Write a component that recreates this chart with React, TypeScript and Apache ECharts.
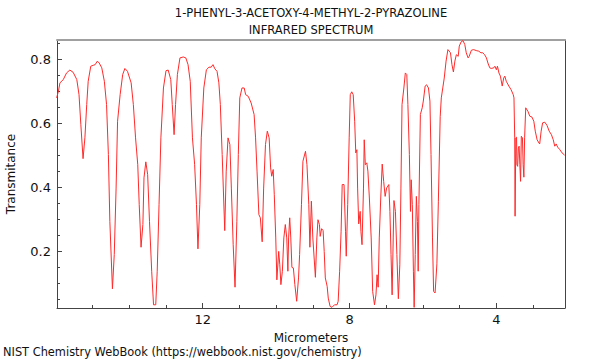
import React, { useEffect, useRef } from "react";
import * as echarts from "echarts";

const titleLines = ["1-PHENYL-3-ACETOXY-4-METHYL-2-PYRAZOLINE", "INFRARED SPECTRUM"];
const footer = "NIST Chemistry WebBook (https://webbook.nist.gov/chemistry)";

const micrometers = [
  15.98, 15.93, 15.89, 15.8, 15.71, 15.62, 15.53, 15.43, 15.37, 15.32, 15.26, 15.21, 15.16, 15.12, 15.05, 14.98,
  14.93, 14.87, 14.82, 14.75, 14.68, 14.62, 14.57, 14.53, 14.46, 14.41, 14.36, 14.32, 14.25, 14.18, 14.12, 14.05,
  13.95, 13.89, 13.83, 13.77, 13.73, 13.68, 13.63, 13.6, 13.55, 13.5, 13.45, 13.39, 13.34, 13.28, 13.24, 13.19,
  13.14, 13.07, 13.0, 12.94, 12.87, 12.83, 12.78, 12.74, 12.69, 12.62, 12.53,
  12.46, 12.4, 12.34, 12.28, 12.22, 12.17, 12.13, 12.08, 12.04, 11.97, 11.9, 11.83, 11.77, 11.72, 11.67, 11.61,
  11.56, 11.52, 11.47, 11.4, 11.36, 11.31, 11.26, 11.22, 11.17, 11.12, 11.07, 11.03, 10.99, 10.93, 10.87, 10.83,
  10.76, 10.68, 10.6, 10.56, 10.52, 10.47, 10.43, 10.38, 10.34, 10.29, 10.24, 10.19, 10.15, 10.12, 10.08, 10.05,
  10.01, 9.98, 9.93, 9.9, 9.87, 9.83, 9.79, 9.75, 9.71, 9.68, 9.66, 9.63, 9.6, 9.57, 9.53, 9.49, 9.44, 9.39, 9.36,
  9.31, 9.27, 9.2, 9.16, 9.11, 9.08, 9.04,
  9.0, 8.93, 8.89, 8.86, 8.82, 8.8, 8.76, 8.72, 8.69, 8.66, 8.61, 8.58, 8.53, 8.48, 8.41, 8.34, 8.31, 8.27, 8.23,
  8.2, 8.15, 8.11, 8.09, 8.05, 8.01, 7.98, 7.94, 7.9, 7.86, 7.83, 7.8, 7.78, 7.75, 7.71, 7.69, 7.66, 7.62, 7.6,
  7.57, 7.53, 7.5, 7.46, 7.41, 7.37, 7.32, 7.28, 7.25, 7.22, 7.19, 7.15, 7.11, 7.07, 7.03, 6.99, 6.93, 6.9, 6.87,
  6.84, 6.81, 6.79, 6.75, 6.71, 6.67, 6.63, 6.6, 6.57, 6.52, 6.48, 6.44, 6.41, 6.37, 6.34, 6.32, 6.29, 6.26, 6.24,
  6.21, 6.18, 6.15, 6.13, 6.11, 6.07, 6.02, 5.99, 5.94, 5.9, 5.85, 5.81, 5.78, 5.74, 5.71, 5.67, 5.62, 5.58, 5.53,
  5.5, 5.46, 5.42, 5.37, 5.32, 5.25, 5.21, 5.17, 5.13, 5.09, 5.04, 5.01, 4.96, 4.91, 4.86, 4.82, 4.77, 4.74, 4.68,
  4.62, 4.55, 4.48, 4.42, 4.37, 4.32, 4.27, 4.23, 4.18, 4.14, 4.07, 4.04, 4.0, 3.97, 3.93, 3.89, 3.84, 3.8, 3.77,
  3.73, 3.66, 3.6, 3.54, 3.52, 3.5, 3.49, 3.47, 3.45, 3.44, 3.42, 3.4, 3.38, 3.36, 3.34, 3.32, 3.29, 3.27, 3.25,
  3.23, 3.2, 3.14, 3.09, 3.03, 2.98, 2.94, 2.89, 2.84, 2.82, 2.78, 2.74, 2.68, 2.62, 2.56, 2.5, 2.45, 2.41, 2.37,
  2.33, 2.27, 2.21, 2.14,
];

const transmittance = [
  0.679, 0.7, 0.726, 0.736, 0.757, 0.766, 0.759, 0.736, 0.689, 0.595, 0.489, 0.554, 0.658, 0.731, 0.778, 0.781,
  0.783, 0.794, 0.788, 0.773, 0.731, 0.658, 0.502, 0.293, 0.082, 0.189, 0.397, 0.606, 0.689, 0.752, 0.771, 0.762,
  0.726, 0.658, 0.554, 0.47, 0.345, 0.212, 0.283, 0.429, 0.479, 0.439, 0.293, 0.137, 0.032, 0.032, 0.137, 0.345,
  0.554, 0.71, 0.764, 0.766, 0.736, 0.658, 0.564, 0.658, 0.752, 0.804, 0.807,
  0.804, 0.783, 0.731, 0.554, 0.47, 0.345, 0.207, 0.345, 0.554, 0.71, 0.767, 0.775, 0.775, 0.783, 0.77, 0.762,
  0.726, 0.658, 0.502, 0.264, 0.45, 0.554, 0.533, 0.397, 0.22, 0.087, 0.293, 0.502, 0.679, 0.71, 0.71, 0.689,
  0.684, 0.663, 0.627, 0.554, 0.45, 0.314, 0.304, 0.229, 0.397, 0.533, 0.575, 0.554, 0.46, 0.434, 0.455, 0.376,
  0.241, 0.11, 0.199, 0.157, 0.095, 0.137, 0.241, 0.283, 0.241, 0.137, 0.241, 0.304, 0.241, 0.149, 0.147, 0.095,
  0.043, 0.116, 0.189, 0.345, 0.481, 0.512, 0.47, 0.345, 0.212, 0.356,
  0.241, 0.118, 0.241, 0.298, 0.283, 0.246, 0.27, 0.264, 0.199, 0.116, 0.09, 0.053, 0.027, 0.024, 0.032, 0.032,
  0.043, 0.137, 0.262, 0.408, 0.408, 0.262, 0.184, 0.345, 0.554, 0.689, 0.698, 0.689, 0.606, 0.507, 0.517, 0.397,
  0.285, 0.324, 0.262, 0.22, 0.397, 0.548, 0.47, 0.476, 0.45, 0.366, 0.241, 0.074, 0.032, 0.063, 0.126, 0.087,
  0.241, 0.366, 0.472, 0.418, 0.371, 0.397, 0.408, 0.324, 0.189, 0.063, 0.241, 0.358, 0.324, 0.189, 0.051, 0.157,
  0.397, 0.658, 0.71, 0.757, 0.752, 0.658, 0.502, 0.324, 0.423, 0.345, 0.137, 0.024, 0.189, 0.371, 0.293, 0.137,
  0.345, 0.627, 0.648, 0.669, 0.716, 0.72, 0.71, 0.669, 0.502, 0.241, 0.074, 0.069, 0.16, 0.356, 0.62, 0.679,
  0.71, 0.741, 0.794, 0.83, 0.82, 0.783, 0.76, 0.794, 0.814, 0.809, 0.841, 0.854, 0.858, 0.846, 0.82, 0.804,
  0.809, 0.828, 0.83, 0.827, 0.825, 0.82, 0.82, 0.814, 0.804, 0.788, 0.773, 0.771, 0.773, 0.778, 0.767, 0.778,
  0.757, 0.747, 0.716, 0.741, 0.747, 0.731, 0.716, 0.705, 0.689, 0.679, 0.554, 0.309, 0.554, 0.556, 0.47, 0.465,
  0.522, 0.528, 0.47, 0.418, 0.559, 0.554, 0.47, 0.431, 0.554, 0.648, 0.637, 0.622, 0.619, 0.606, 0.575, 0.548,
  0.538, 0.535, 0.575, 0.601, 0.603, 0.593, 0.575, 0.564, 0.548, 0.528, 0.535, 0.525, 0.517, 0.507, 0.5,
];

const xRange = [2.13, 15.97];
const yRange = [0.022, 0.86];
const xMajorTicks = [4, 8, 12];
const xMinorTicks = [3, 5, 6, 7, 9, 10, 11, 13, 14, 15];
const yMajorTicks = [0.2, 0.4, 0.6, 0.8];
const yMinorTicks = [0.05, 0.1, 0.15, 0.25, 0.3, 0.35, 0.45, 0.5, 0.55, 0.65, 0.7, 0.75, 0.85];

const FONT = "DejaVu Sans";
const AXIS_COLOR = "#444";

export default function App() {
  const ref = useRef<HTMLDivElement>(null);
  useEffect(() => {
    if (!ref.current) return;
    const chart = echarts.init(ref.current, undefined, { renderer: "svg" });
    const data = micrometers.map((x, i) => [x, transmittance[i]]);
    const hiddenLabel = { show: false };
    chart.setOption({
      animation: false,
      backgroundColor: "#fff",
      textStyle: { fontFamily: FONT },
      grid: { left: 57, right: 35, top: 40, bottom: 52, containLabel: false, outerBoundsMode: "none" },
      xAxis: [
        {
          type: "value",
          min: xRange[0],
          max: xRange[1],
          inverse: true,
          position: "bottom",
          name: "Micrometers",
          nameLocation: "middle",
          nameGap: 24,
          nameTextStyle: { fontSize: 12, color: "#111", fontFamily: FONT },
          axisLine: { show: true, lineStyle: { color: AXIS_COLOR, width: 1 } },
          axisTick: { show: true, inside: true, length: 5, customValues: xMajorTicks, lineStyle: { color: AXIS_COLOR } },
          axisLabel: { show: true, customValues: xMajorTicks, fontSize: 13, color: "#111", margin: 5, fontFamily: FONT },
          splitLine: { show: false },
        },
        {
          type: "value",
          min: xRange[0],
          max: xRange[1],
          inverse: true,
          position: "bottom",
          axisLine: { show: false },
          axisTick: { show: true, inside: true, length: 3, customValues: xMinorTicks, lineStyle: { color: AXIS_COLOR } },
          axisLabel: hiddenLabel,
          splitLine: { show: false },
        },
        {
          type: "value",
          min: xRange[0],
          max: xRange[1],
          inverse: true,
          position: "top",
          axisLine: { show: true, lineStyle: { color: "#a0a0a0", width: 2 } },
          axisTick: { show: false },
          axisLabel: hiddenLabel,
          splitLine: { show: false },
        },
      ],
      yAxis: [
        {
          type: "value",
          min: yRange[0],
          max: yRange[1],
          position: "left",
          name: "Transmitance",
          nameLocation: "middle",
          nameGap: 40,
          nameRotate: 90,
          nameTextStyle: { fontSize: 12, color: "#111", fontFamily: FONT },
          axisLine: { show: true, lineStyle: { color: AXIS_COLOR, width: 1 } },
          axisTick: { show: true, inside: true, length: 5, customValues: yMajorTicks, lineStyle: { color: AXIS_COLOR } },
          axisLabel: {
            show: true,
            customValues: yMajorTicks,
            fontSize: 13,
            color: "#111",
            margin: 6,
            fontFamily: FONT,
            formatter: (v: number) => v.toFixed(1),
          },
          splitLine: { show: false },
        },
        {
          type: "value",
          min: yRange[0],
          max: yRange[1],
          position: "left",
          axisLine: { show: false },
          axisTick: { show: true, inside: true, length: 3, customValues: yMinorTicks, lineStyle: { color: AXIS_COLOR } },
          axisLabel: hiddenLabel,
          splitLine: { show: false },
        },
        {
          type: "value",
          min: yRange[0],
          max: yRange[1],
          position: "right",
          axisLine: { show: true, lineStyle: { color: AXIS_COLOR, width: 1 } },
          axisTick: { show: false },
          axisLabel: hiddenLabel,
          splitLine: { show: false },
        },
      ],
      series: [
        {
          type: "line",
          xAxisIndex: 0,
          yAxisIndex: 0,
          data,
          showSymbol: false,
          symbol: "none",
          lineStyle: { color: "#ff2a2a", width: 1 },
          clip: true,
        },
      ],
      graphic: [
        {
          type: "text",
          x: 311,
          y: 13,
          style: { text: titleLines[0], font: `11.5px '${FONT}'`, fill: "#111", textAlign: "center", textVerticalAlign: "middle" },
        },
        {
          type: "text",
          x: 311,
          y: 30,
          style: { text: titleLines[1], font: `11.5px '${FONT}'`, fill: "#111", textAlign: "center", textVerticalAlign: "middle" },
        },
        {
          type: "text",
          x: 3,
          y: 352,
          style: { text: footer, font: `11.4px '${FONT}'`, fill: "#111", textAlign: "left", textVerticalAlign: "middle" },
        },
      ],
    });
    return () => chart.dispose();
  }, []);
  return <div ref={ref} style={{ position: "absolute", left: 0, top: 0, width: 600, height: 360 }} />;
}
